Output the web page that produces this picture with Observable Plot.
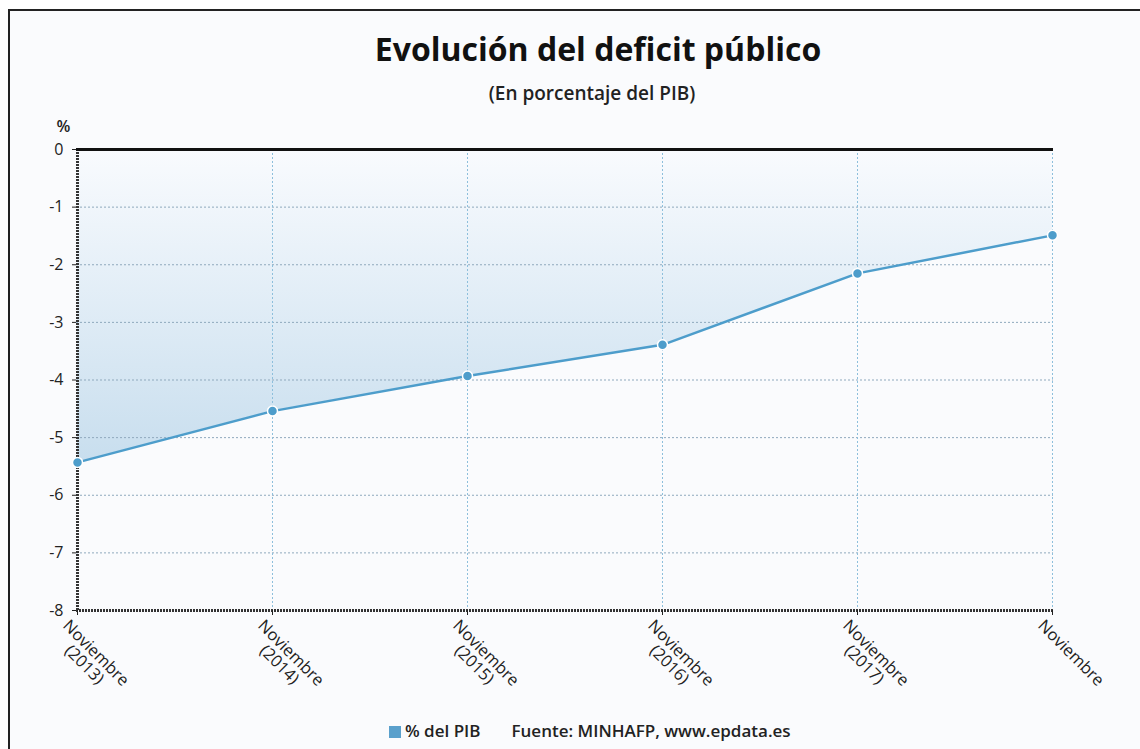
<!DOCTYPE html>
<html><head><meta charset="utf-8">
<script src="https://cdn.jsdelivr.net/npm/d3@7"></script>
<script src="https://cdn.jsdelivr.net/npm/@observablehq/plot@0.6"></script>
<style>
body{margin:0;background:#fff;width:1140px;height:749px;overflow:hidden;position:relative;font-family:"Open Sans",sans-serif;}
#frame{position:absolute;left:8px;top:9px;right:0;bottom:0;border-left:2px solid #222;border-top:2px solid #222;background:#fafbfd;}
#title{position:absolute;left:0;width:1196px;top:27px;text-align:center;font-weight:700;font-size:32px;color:#111;line-height:44px;}
#subtitle{position:absolute;left:0;width:1184px;top:80px;text-align:center;font-weight:600;font-size:19px;color:#222;line-height:26px;}
#chart{position:absolute;left:0;top:0;}
#legend{position:absolute;left:389px;top:719px;font-weight:600;font-size:17px;color:#222;line-height:24px;white-space:nowrap;}
#legend .sw{display:inline-block;width:12px;height:12px;background:#5aa0cc;margin-right:4px;vertical-align:-1px;}
#legend .src{margin-left:31px;}
</style></head>
<body>
<div id="frame"></div>
<div id="title">Evolución del deficit público</div>
<div id="subtitle">(En porcentaje del PIB)</div>
<div id="chart"></div>
<div id="legend"><span class="sw"></span>% del PIB<span class="src">Fuente: MINHAFP, www.epdata.es</span></div>
<script>
const periods = ["Noviembre\n(2013)", "Noviembre\n(2014)", "Noviembre\n(2015)", "Noviembre\n(2016)", "Noviembre\n(2017)", "Noviembre"];
const deficit = [-5.43, -4.54, -3.93, -3.39, -2.15, -1.49];
const yTicks = [0, -1, -2, -3, -4, -5, -6, -7, -8];

const data = periods.map((p, i) => ({period: p, value: deficit[i]}));

const gradientDefs = () => {
  const ns = "http://www.w3.org/2000/svg";
  const defs = document.createElementNS(ns, "defs");
  defs.innerHTML = '<linearGradient id="areaGrad" x1="0" y1="0" x2="0" y2="1">' +
    '<stop offset="0" stop-color="#f9fbfe"/><stop offset="1" stop-color="#c8deee"/></linearGradient>';
  return defs;
};

const chart = Plot.plot({
  width: 1140, height: 749,
  marginLeft: 76, marginRight: 87, marginTop: 149, marginBottom: 139,
  style: {background: "transparent", fontFamily: "Open Sans", fontSize: "16px", color: "#222"},
  x: {type: "point", domain: periods, padding: 0},
  y: {domain: [-8, 0]},
  marks: [
    gradientDefs,
    Plot.areaY(data, {x: "period", y1: 0, y2: "value", fill: "url(#areaGrad)"}),
    Plot.ruleY(yTicks.filter(v => v !== 0 && v !== -8), {stroke: "#8fa9bd", strokeDasharray: "2,2", strokeWidth: 1}),
    Plot.ruleX(periods.slice(1), {stroke: "#8dbfdc", strokeDasharray: "2,2", strokeWidth: 1}),
    Plot.ruleX([periods[0]], {stroke: "#333", strokeWidth: 3, strokeDasharray: "2,1"}),
    Plot.ruleY([-8], {stroke: "#333", strokeWidth: 3, strokeDasharray: "2,1"}),
    Plot.ruleY([0], {stroke: "#111", strokeWidth: 3}),
    Plot.axisY({ticks: yTicks, tickSize: 4, tickPadding: 9, label: null, fontSize: 16, tickFormat: d => String(d)}),
    Plot.axisX({tickSize: 5, tickFormat: () => "", label: null}),
    Plot.text(data, {x: "period", y: () => -8, text: "period", rotate: 45, textAnchor: "middle", lineAnchor: "top",
      dx: 23, dy: 38, fontSize: 16.5, fill: "#222"}),
    Plot.lineY(data, {x: "period", y: "value", stroke: "#4d9dcb", strokeWidth: 2.5}),
    Plot.dot(data, {x: "period", y: "value", r: 5, fill: "#4d9dcb", stroke: "#fff", strokeWidth: 1.5}),
    Plot.text(["%"], {frameAnchor: "top-left", dx: -13, dy: -23, textAnchor: "middle", lineAnchor: "middle", fontSize: 16, fontWeight: 600, fill: "#222"})
  ]
});
document.getElementById("chart").appendChild(chart);
</script>
</body></html>
